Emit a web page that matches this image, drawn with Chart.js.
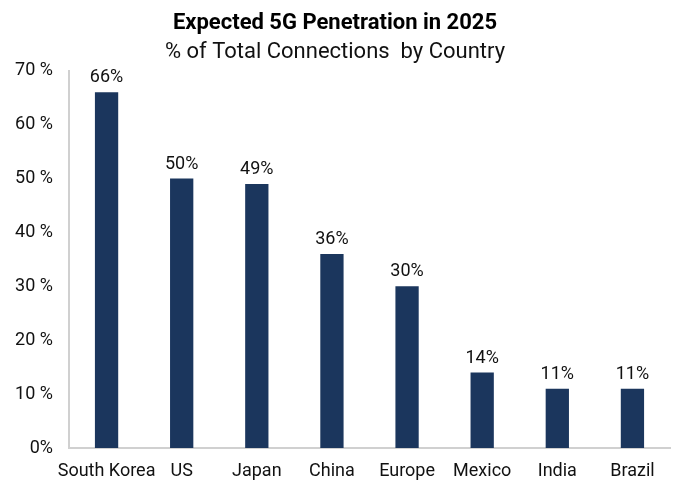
<!DOCTYPE html>
<html>
<head>
<meta charset="utf-8">
<script src="https://cdn.jsdelivr.net/npm/chart.js@4.4.1/dist/chart.umd.min.js"></script>
<style>
  html, body { margin: 0; padding: 0; background: #fff; }
  #wrap { width: 675px; height: 483px; position: relative; }
</style>
</head>
<body>
<div id="wrap"><canvas id="chart"></canvas></div>
<script>
// --- data ---
const countries = ['South Korea', 'US', 'Japan', 'China', 'Europe', 'Mexico', 'India', 'Brazil'];
const penetration = [66, 50, 49, 36, 30, 14, 11, 11];
const yTicks = [0, 10, 20, 30, 40, 50, 60, 70];
const yTickLabels = ['0%', '10 %', '20 %', '30 %', '40 %', '50 %', '60 %', '70 %'];

const FONT = 'Roboto, "Liberation Sans", sans-serif';
const BAR = '#1b365d';

// value labels above the bars
const barLabels = {
  id: 'barLabels',
  afterDatasetsDraw(chart) {
    const { ctx } = chart;
    const meta = chart.getDatasetMeta(0);
    ctx.save();
    ctx.font = '18px ' + FONT;
    ctx.fillStyle = '#111';
    ctx.textAlign = 'center';
    ctx.textBaseline = 'alphabetic';
    meta.data.forEach((bar, i) => {
      ctx.fillText(penetration[i] + '%', bar.x, bar.y - 10);
    });
    ctx.restore();
  }
};

new Chart(document.getElementById('chart').getContext('2d'), {
  type: 'bar',
  data: {
    labels: countries,
    datasets: [{
      data: penetration,
      backgroundColor: BAR,
      borderWidth: 0,
      barPercentage: 0.31,
      categoryPercentage: 1
    }]
  },
  options: {
    responsive: true,
    maintainAspectRatio: false,
    animation: false,
    layout: { padding: { top: 0, right: 5, bottom: 2, left: 0 } },
    plugins: {
      legend: { display: false },
      tooltip: { enabled: false },
      title: {
        display: true,
        text: 'Expected 5G Penetration in 2025',
        color: '#000',
        font: { family: FONT, size: 22, weight: 'bold' },
        padding: { top: 10, bottom: 3 }
      },
      subtitle: {
        display: true,
        text: '% of Total Connections  by Country',
        color: '#111',
        font: { family: FONT, size: 22 },
        padding: { top: 0, bottom: 5 }
      }
    },
    scales: {
      x: {
        afterFit: s => { s.height = 33; },
        grid: { display: false, drawTicks: false },
        border: { color: '#d0d0d0', width: 2 },
        ticks: {
          color: '#111',
          font: { family: FONT, size: 18 },
          padding: 13,
          maxRotation: 0,
          autoSkip: false
        }
      },
      y: {
        min: 0,
        max: 70,
        afterFit: s => { s.width = 69; },
        afterBuildTicks: s => { s.ticks = yTicks.map(v => ({ value: v })); },
        grid: { display: false, drawTicks: false },
        border: { color: '#d0d0d0', width: 2 },
        ticks: {
          color: '#111',
          font: { family: FONT, size: 18 },
          padding: 16,
          callback: (v) => yTickLabels[yTicks.indexOf(v)]
        }
      }
    }
  },
  plugins: [barLabels]
});
</script>
</body>
</html>
